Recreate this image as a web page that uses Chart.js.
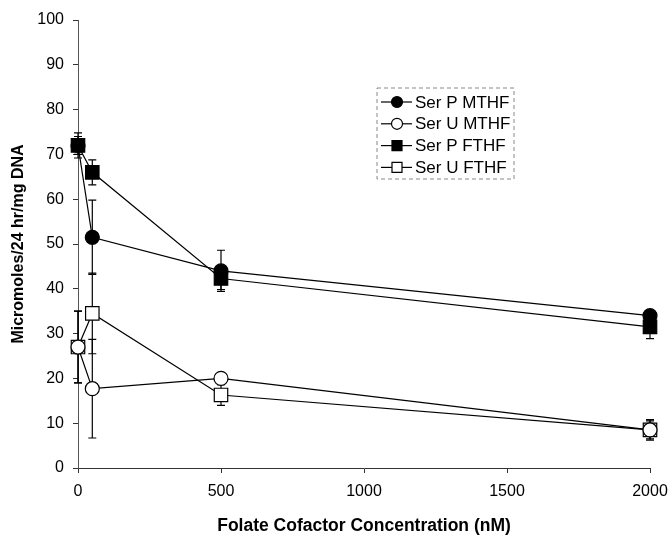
<!DOCTYPE html>
<html>
<head>
<meta charset="utf-8">
<script src="https://cdn.jsdelivr.net/npm/chart.js@4/dist/chart.umd.min.js"></script>
<style>
  html, body { margin: 0; padding: 0; background: #fff; }
  #wrap { width: 671px; height: 535px; }
</style>
</head>
<body>
<div id="wrap"><canvas id="folateChart"></canvas></div>
<script>
// concentrations (nM)
const concentrations = [0, 50, 500, 2000];

const serPMTHF = [72, 51.5, 44, 34];
const serPMTHFErr = [2, 8.3, 4.6, 1];

const serUMTHF = [27, 17.7, 20, 8.5];
const serUMTHFErr = [8, 11, 1, 2];

const serPFTHF = [72, 66, 42.3, 31.5];
const serPFTHFErr = [2.8, 2.8, 2.5, 2.6];

const serUFTHF = [27, 34.5, 16.3, 8.5];
const serUFTHFErr = [8, 9, 2.3, 2.3];

const seriesNames = ["Ser P MTHF", "Ser U MTHF", "Ser P FTHF", "Ser U FTHF"];

const xTicks = [0, 500, 1000, 1500, 2000];

function toPoints(vals) {
    return concentrations.map((c, i) => ({ x: c, y: vals[i] }));
}

function makeSet(label, vals, errs, shape, filled) {
    return {
        label: label,
        data: toPoints(vals),
        errors: errs,
        borderColor: "#000",
        borderWidth: 1.2,
        pointStyle: shape,
        pointRadius: shape === "rect" ? 9.5 : 7,
        pointBackgroundColor: filled ? "#000" : "#fff",
        pointBorderColor: "#000",
        pointBorderWidth: 1.2,
        tension: 0,
        fill: false,
        clip: false
    };
}

// vertical error bars, drawn under the markers
const errorBars = {
    id: "errorBars",
    beforeDatasetsDraw(chart) {
        const ctx = chart.ctx;
        const xs = chart.scales.x, ys = chart.scales.y;
        ctx.save();
        ctx.strokeStyle = "#000";
        ctx.lineWidth = 1.2;
        chart.data.datasets.forEach(ds => {
            ds.data.forEach((p, i) => {
                const e = ds.errors[i];
                if (!e) return;
                const px = xs.getPixelForValue(p.x);
                const top = ys.getPixelForValue(p.y + e);
                const bot = ys.getPixelForValue(p.y - e);
                ctx.beginPath();
                ctx.moveTo(px, top); ctx.lineTo(px, bot);
                ctx.moveTo(px - 4, top); ctx.lineTo(px + 4, top);
                ctx.moveTo(px - 4, bot); ctx.lineTo(px + 4, bot);
                ctx.stroke();
            });
        });
        ctx.restore();
    }
};

// boxed legend inside the plot, like the original figure
const boxLegend = {
    id: "boxLegend",
    afterDraw(chart, args, opts) {
        const ctx = chart.ctx;
        ctx.save();
        ctx.strokeStyle = "#888";
        ctx.lineWidth = 1;
        ctx.setLineDash([4, 3]);
        ctx.strokeRect(opts.x, opts.y, opts.w, opts.h);
        ctx.setLineDash([]);
        ctx.font = "17px 'Liberation Sans', Arial, sans-serif";
        ctx.textBaseline = "middle";
        chart.data.datasets.forEach((ds, i) => {
            const y = opts.y + 14 + i * 21.8;
            const x0 = opts.x + 4;
            ctx.strokeStyle = "#000";
            ctx.lineWidth = 1.2;
            ctx.beginPath();
            ctx.moveTo(x0, y); ctx.lineTo(x0 + 31, y);
            ctx.stroke();
            const cx = x0 + 16;
            ctx.fillStyle = ds.pointBackgroundColor;
            ctx.beginPath();
            if (ds.pointStyle === "rect") ctx.rect(cx - 5, y - 5, 10, 10);
            else ctx.arc(cx, y, 5.5, 0, Math.PI * 2);
            ctx.fill();
            ctx.stroke();
            ctx.fillStyle = "#000";
            ctx.fillText(ds.label, x0 + 34, y + 1);
        });
        ctx.restore();
    }
};

const tickFont = { family: "'Liberation Sans', Arial, sans-serif", size: 16 };

new Chart(document.getElementById("folateChart"), {
    type: "line",
    data: {
        datasets: [
            makeSet(seriesNames[0], serPMTHF, serPMTHFErr, "circle", true),
            makeSet(seriesNames[1], serUMTHF, serUMTHFErr, "circle", false),
            makeSet(seriesNames[2], serPFTHF, serPFTHFErr, "rect", true),
            makeSet(seriesNames[3], serUFTHF, serUFTHFErr, "rect", false)
        ]
    },
    options: {
        responsive: true,
        maintainAspectRatio: false,
        animation: false,
        layout: { padding: { top: 20, right: 21, left: 0, bottom: 0 } },
        plugins: {
            legend: { display: false },
            tooltip: { enabled: false },
            boxLegend: { x: 377, y: 88, w: 137, h: 91 }
        },
        scales: {
            x: {
                type: "linear",
                min: 0,
                max: 2000,
                afterBuildTicks: s => { s.ticks = xTicks.map(v => ({ value: v })); },
                afterFit: s => { s.height = 67; s.paddingRight = 0; s.paddingLeft = 0; },
                grid: { drawOnChartArea: false, tickLength: 5, color: "#333" },
                border: { color: "#333", width: 1 },
                ticks: { color: "#000", font: tickFont, padding: 9, maxRotation: 0, callback: v => String(v) },
                title: {
                    display: true, text: "Folate Cofactor Concentration (nM)", color: "#000",
                    font: { family: "'Liberation Sans', Arial, sans-serif", size: 17.5, weight: "bold", lineHeight: 1 },
                    padding: { top: 0, bottom: 0 }
                }
            },
            y: {
                min: 0,
                max: 100,
                afterFit: s => { s.width = 78; s.paddingTop = 0; s.paddingBottom = 0; },
                grid: { drawOnChartArea: false, tickLength: 5, color: "#333" },
                border: { color: "#555", width: 1 },
                ticks: { stepSize: 10, color: "#000", font: tickFont, padding: 9 },
                title: {
                    display: true, text: "Micromoles/24 hr/mg DNA", color: "#000",
                    font: { family: "'Liberation Sans', Arial, sans-serif", size: 16, weight: "bold" },
                    padding: { top: 9, bottom: 0 }
                }
            }
        }
    },
    plugins: [errorBars, boxLegend]
});
</script>
</body>
</html>
